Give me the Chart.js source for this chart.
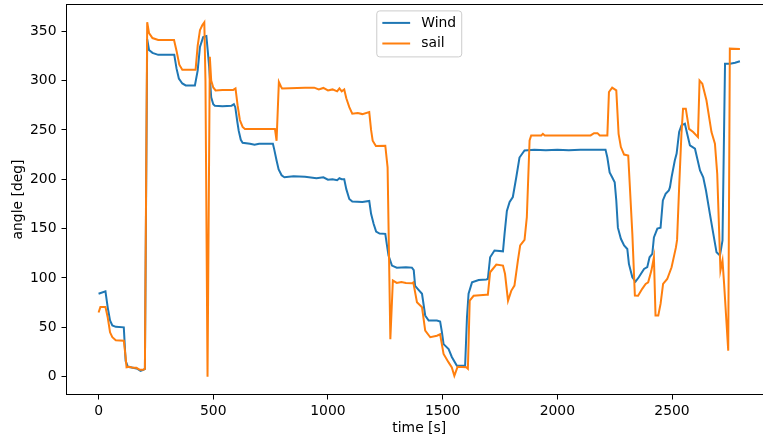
<!DOCTYPE html>
<html>
<head>
<meta charset="utf-8">
<script src="https://cdn.jsdelivr.net/npm/chart.js@4"></script>
<style>
    html, body { margin: 0; padding: 0; background: #fff; overflow: hidden; }
    #wrap { width: 780px; height: 441px; position: relative; }
</style>
</head>
<body>
<div id="wrap"><canvas id="angleChart"></canvas></div>
<script>
// --- Logged angles ---
const windTime = [0, 30, 40, 50, 60, 75, 110, 118, 128, 150, 170, 183, 195, 202,
    212, 220, 235, 260, 300, 330, 340, 350, 365, 380, 420, 432, 442, 456, 470,
    476, 482, 491, 500, 507, 540, 580, 590, 596, 605, 611, 620, 628, 660, 680,
    700, 760, 766, 776, 785, 798, 810, 850, 900, 950, 980, 1000, 1020, 1040,
    1050, 1060, 1071, 1080, 1093, 1106, 1150, 1180, 1188, 1199, 1210, 1225,
    1250, 1256, 1264, 1279, 1300, 1340, 1366, 1374, 1380, 1395, 1410, 1424,
    1439, 1475, 1489, 1497, 1504, 1526, 1540, 1562, 1598, 1606, 1613, 1628,
    1657, 1690, 1697, 1707, 1726, 1763, 1770, 1780, 1792, 1806, 1821, 1835,
    1857, 1900, 1950, 2000, 2050, 2100, 2150, 2210, 2218, 2228, 2239, 2250,
    2257, 2264, 2277, 2291, 2305, 2312, 2327, 2341, 2355, 2378, 2392, 2402,
    2414, 2421, 2436, 2450, 2460, 2472, 2486, 2491, 2498, 2512, 2520, 2531,
    2541, 2556, 2566, 2578, 2600, 2622, 2636, 2648, 2665, 2680, 2694, 2709,
    2720, 2731, 2753, 2775, 2796];
const windAngle = [84, 86.5, 70, 57, 52, 50.5, 50, 16, 10, 9, 8, 6, 7, 8,
    342, 331, 328, 326, 326, 326, 312, 302, 297, 295, 295, 310, 334, 344, 345,
    330, 314, 283, 276, 274.5, 274, 274.5, 276, 273, 258, 249, 240, 237, 236, 235,
    236, 236, 230, 219, 210, 204, 202, 203, 202.5, 201, 202, 199.5, 200, 199,
    201, 200, 200, 190, 180, 177.5, 177, 178, 165, 155, 147, 145,
    144.7, 135, 122.7, 112.6, 110.5, 111, 110.5, 108, 92, 88, 84, 62,
    57, 57, 56, 45, 33, 28, 20, 11, 11, 60, 84, 95.6,
    98, 98.5, 99, 121, 127.8, 127, 145, 168, 177, 182, 202, 222,
    229.2, 230, 229.5, 230, 229.5, 230, 230, 230, 222, 207, 202, 197,
    178.5, 151, 139.7, 133, 129.4, 114.3, 100.7, 96.4, 100.7, 109.2, 111, 121,
    124.4, 141, 150, 151, 178.5, 185.3, 188.6, 192, 202, 219, 226, 248,
    254.6, 256.3, 246, 234.3, 231, 209, 202, 188.6, 165, 144.7, 126, 122.7,
    138, 317, 317, 318, 319.5];

const sailTime = [0, 8, 30, 40, 50, 60, 75, 110, 118, 122, 135, 150, 165, 180,
    195, 202, 212, 220, 235, 260, 300, 329, 340, 352, 365, 400, 423, 432, 442,
    452, 461, 466, 475, 485, 491, 500, 510, 540, 587, 597, 606, 616, 628, 638,
    700, 769, 776, 786, 795, 800, 900, 940, 960, 980, 1000, 1020, 1040, 1050,
    1060, 1071, 1080, 1093, 1106, 1130, 1150, 1180, 1188, 1195, 1209, 1250,
    1260, 1272, 1283, 1300, 1320, 1340, 1366, 1372, 1388, 1410, 1424, 1446,
    1475, 1489, 1504, 1526, 1540, 1551, 1565, 1603, 1610, 1618, 1635, 1690,
    1697, 1707, 1734, 1763, 1772, 1785, 1799, 1813, 1828, 1838, 1857, 1867,
    1879, 1886, 1930, 1937, 1945, 2145, 2160, 2175, 2185, 2218, 2225, 2239,
    2257, 2267, 2277, 2291, 2309, 2327, 2338, 2352, 2370, 2385, 2396, 2410,
    2421, 2428, 2440, 2450, 2461, 2479, 2498, 2517, 2522, 2531, 2541, 2548,
    2560, 2574, 2592, 2613, 2620, 2632, 2650, 2672, 2687, 2697, 2711, 2720,
    2727, 2745, 2752, 2796];
const sailAngle = [65, 70.5, 70.5, 60, 45, 40, 37, 36.5, 20, 9.5, 10, 9, 9, 7,
    7, 8, 359, 348, 343, 341, 341, 341, 330, 316, 311, 311, 311, 335, 351,
    356, 359, 300, 0, 324, 300, 293, 290, 290.5, 290.5, 292, 275, 260, 253, 251,
    251, 251, 239, 298.5, 294, 292, 292.8, 292.8, 291, 292.5, 290, 291, 289, 292,
    289, 291, 282, 273, 266.4, 267, 266, 268, 250, 239, 233.6, 234,
    212, 38, 97.4, 95, 96, 95, 94.6, 95.5, 75.4, 70.3, 46.7, 40,
    41.5, 43, 23, 14.5, 9.5, 1, 10, 9.5, 8, 77, 82, 83,
    83, 105.8, 113.6, 112.6, 104, 77, 87, 92.3, 117.6, 133, 138.6, 161.6,
    239.4, 244.4, 244.4, 246, 244.4, 244.4, 246.7, 246.7, 244.4, 244.4, 288.4, 292.8,
    290, 246, 232.6, 225, 224, 144.7, 82.2, 82, 89, 94, 95.6, 107.5,
    121, 62, 62, 73.7, 94, 99, 110.9, 131, 138.6, 192, 246, 271.5,
    271.5, 251, 247.8, 242.7, 300, 296.8, 280, 247.8, 236, 205.6, 107.5, 117.6,
    94, 26.4, 332.3, 332];

const xTicks = [0, 500, 1000, 1500, 2000, 2500];
const yTicks = [0, 50, 100, 150, 200, 250, 300, 350];

const FONT = { family: "'DejaVu Sans', sans-serif", size: 13.9 };

function toPoints(xs, ys) {
    return xs.map((x, i) => ({ x: x, y: ys[i] }));
}

// --- Frame (all four spines) ---
const framePlugin = {
    id: 'frame',
    afterDatasetsDraw(chart) {
        const a = chart.chartArea;
        const ctx = chart.ctx;
        ctx.save();
        ctx.strokeStyle = '#000';
        ctx.lineWidth = 1;
        ctx.strokeRect(a.left, a.top, a.right - a.left, a.bottom - a.top);
        ctx.restore();
    }
};

// --- Legend box, upper centre ---
const boxLegend = {
    id: 'boxLegend',
    afterDraw(chart) {
        const ctx = chart.ctx;
        const a = chart.chartArea;
        const sets = chart.data.datasets;
        const fs = FONT.size;
        const pad = 0.4 * fs, handle = 2 * fs, gap = 0.8 * fs, rowH = 20.6;
        ctx.save();
        ctx.font = fs + "px " + FONT.family;
        let tw = 0;
        sets.forEach(d => { tw = Math.max(tw, ctx.measureText(d.label).width); });
        const w = pad * 2 + handle + gap + tw;
        const h = 46;
        const x = (a.left + a.right) / 2 - w / 2;
        const y = a.top + 6.4;

        ctx.beginPath();
        ctx.roundRect(x, y, w, h, 3);
        ctx.fillStyle = 'rgba(255,255,255,0.8)';
        ctx.fill();
        ctx.strokeStyle = '#cccccc';
        ctx.lineWidth = 1;
        ctx.stroke();

        sets.forEach((d, i) => {
            const cy = y + 12 + i * rowH;
            ctx.beginPath();
            ctx.moveTo(x + pad, cy);
            ctx.lineTo(x + pad + handle, cy);
            ctx.strokeStyle = d.borderColor;
            ctx.lineWidth = 2;
            ctx.stroke();
            ctx.fillStyle = '#000';
            ctx.textBaseline = 'middle';
            ctx.textAlign = 'left';
            ctx.fillText(d.label, x + pad + handle + gap, cy);
        });
        ctx.restore();
    }
};

new Chart(document.getElementById('angleChart'), {
    type: 'line',
    data: {
        datasets: [
            {
                label: 'Wind',
                data: toPoints(windTime, windAngle),
                borderColor: '#1f77b4',
                borderWidth: 2,
                pointRadius: 0,
                tension: 0,
                order: 1
            },
            {
                label: 'sail',
                data: toPoints(sailTime, sailAngle),
                borderColor: '#ff7f0e',
                borderWidth: 2,
                pointRadius: 0,
                tension: 0,
                order: 0
            }
        ]
    },
    options: {
        responsive: true,
        maintainAspectRatio: false,
        animation: false,
        layout: { padding: { top: 4.5, right: 8, left: 0, bottom: 0 } },
        plugins: {
            legend: { display: false },
            tooltip: { enabled: false }
        },
        scales: {
            x: {
                type: 'linear',
                min: -139.8,
                max: 2935.8,
                afterBuildTicks: axis => { axis.ticks = xTicks.map(v => ({ value: v })); },
                afterFit: axis => {
                    axis.height = 46.5;
                    axis.paddingLeft = 0;
                    axis.paddingRight = 0;
                },
                border: { display: false },
                grid: { drawOnChartArea: false, drawTicks: true, tickLength: 5, tickColor: '#000' },
                ticks: { color: '#000', font: FONT, padding: 4, maxRotation: 0, callback: v => String(v) },
                title: { display: true, text: 'time [s]', color: '#000', font: FONT, padding: { top: 0, bottom: 4.7 } }
            },
            y: {
                min: -18,
                max: 377,
                afterBuildTicks: axis => { axis.ticks = yTicks.map(v => ({ value: v })); },
                afterFit: axis => {
                    axis.width = 66.5;
                    axis.paddingTop = 0;
                    axis.paddingBottom = 0;
                },
                border: { display: false },
                grid: { drawOnChartArea: false, drawTicks: true, tickLength: 5, tickColor: '#000' },
                ticks: { color: '#000', font: FONT, padding: 5, callback: v => String(v) },
                title: { display: true, text: 'angle [deg]', color: '#000', font: FONT, padding: { top: 9.7, bottom: 0 } }
            }
        }
    },
    plugins: [framePlugin, boxLegend]
});
</script>
</body>
</html>
